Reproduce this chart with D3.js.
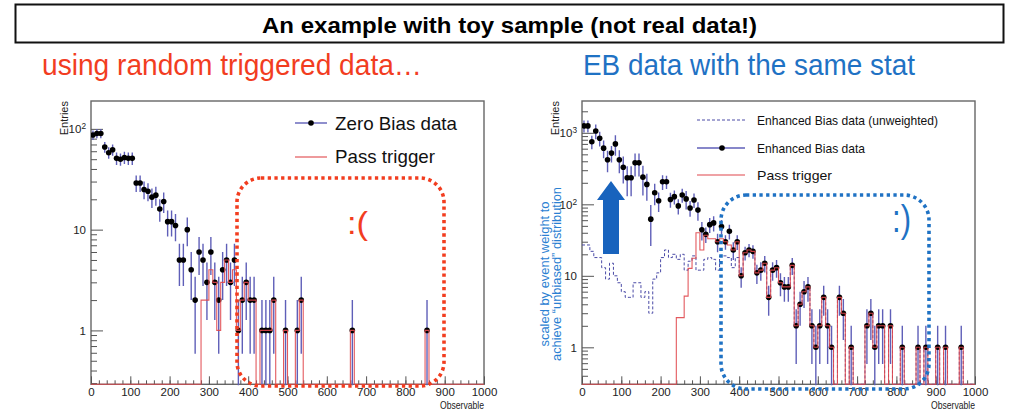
<!DOCTYPE html>
<html><head><meta charset="utf-8">
<script src="https://cdn.jsdelivr.net/npm/d3@7/dist/d3.min.js"></script>
<style>
body{margin:0;background:#fff}
svg{display:block;font-family:"Liberation Sans",Arial,Helvetica,sans-serif}
</style></head><body>
<svg id="chart" width="1019" height="410"></svg>
<script>
// ---------------- data ----------------
const titleText = "An example with toy sample (not real data!)";
const leftSubtitle = "using random triggered data…";
const rightSubtitle = "EB data with the same stat";
const binLow = d3.range(0, 1000, 10);   // histogram bins (10 units wide)
const binWidth = 10;
const xTicks = [0,100,200,300,400,500,600,700,800,900,1000];
const leftYTicks = [1,10,100];
const rightYTicks = [1,10,100,1000];

const zeroBias = [
 87,90,90,66,58,62,51,50,52,51,
 51,29,29,25,24,21,22,16,19,12,
 12,11,5,5,10,4,2,6,5,3,
 6,3,2,4,5,3,5,1,2,3,
 2,2,0,1,1,1,2,0,0,1,
 0,0,1,2,0,0,0,0,0,0,
 0,0,0,0,0,0,1,0,0,0,
 0,0,0,0,0,0,0,0,0,0,
 0,0,0,0,0,1,0,0,0,0,
 0,0,0,0,0,0,0,0,0,0];
const zeroBiasPass = [
 0,0,0,0,0,0,0,0,0,0,
 0,0,0,0,0,0,0,0,0,0,
 0,0,0,0,0,0,0,0,2,2,
 4,3,1,3,5,3,4,1,2,3,
 2,2,0,1,1,1,2,0,0,1,
 0,0,1,2,0,0,0,0,0,0,
 0,0,0,0,0,0,1,0,0,0,
 0,0,0,0,0,0,0,0,0,0,
 0,0,0,0,0,1,0,0,0,0,
 0,0,0,0,0,0,0,0,0,0];
const ebWeighted = [
 1250,1250,750,1060,840,610,420,520,700,420,
 330,235,235,380,380,240,190,62,145,112,
 207,207,117,128,95,135,119,89,115,83,
 44,38,52,55,30,49,30,42,23,30,
 10,21,23,22,11,12,15,5,12,13,
 8,7,7,14,2,4,6,7,2,1,
 2,5,2,1,0,5,3,0,1,0,
 0,0,2,3,1,2,2,0,2,0,
 0,1,0,0,0,1,0,1,0,0,
 1,0,1,0,0,0,1,0,0,0];
const ebUnweighted = [
 27,27,22,18,18,13,9,15,10,8,
 6,5,5,8,8,5,6,3,9,11,
 18,23,18,20,17,20,12,16,19,12,
 12,17,18,17,12,19,19,18,13,18,
 10,21,23,22,11,12,15,5,12,13,
 8,7,7,14,2,4,6,7,2,1,
 2,5,2,1,0,5,3,0,1,0,
 0,0,2,3,1,2,2,0,2,0,
 0,1,0,0,0,1,0,1,0,0,
 1,0,1,0,0,0,1,0,0,0];
const ebPass = [
 0,0,0,0,0,0,0,0,0,0,
 0,0,0,0,0,0,0,0,0,0,
 0,0,0,0,2.6,2.6,5.2,12.7,17.6,40,
 23,37,33,33,30,33,30,27,23,30,
 10,21,23,22,11,12,15,5,12,13,
 8,7,7,14,2,4,6,7,2,1,
 2,5,2,1,0,5,3,0,1,0,
 0,0,2,3,1,2,2,0,2,0,
 0,1,0,0,0,1,0,1,0,0,
 1,0,1,0,0,0,1,0,0,0];

// statistical errors
const zeroBiasErr = zeroBias.map(v => Math.sqrt(v));
const ebErr = ebWeighted.map((v,i) => ebUnweighted[i] > 0 ? v / Math.sqrt(ebUnweighted[i]) : 0);

// ---------------- drawing ----------------
const COL_ERR = '#5f5fb8', COL_RED = '#e0474c', COL_DASH = '#4a4aa6';
const RED = '#f23d1f', BLUE = '#1f72c4';
const svg = d3.select('#chart');
svg.append('rect').attr('width',1019).attr('height',410).attr('fill','#fff');
const defs = svg.append('defs');

// title
svg.append('rect').attr('x',15.5).attr('y',4.5).attr('width',988).attr('height',38)
  .attr('fill','none').attr('stroke','#111').attr('stroke-width',2);
svg.append('text').attr('x',509.5).attr('y',33.3).attr('text-anchor','middle')
  .attr('font-weight','bold').attr('font-size',21.5).attr('fill','#000')
  .attr('textLength',495).attr('lengthAdjust','spacingAndGlyphs').text(titleText);

svg.append('text').attr('x',42).attr('y',75).attr('font-size',30).attr('fill',RED)
  .attr('textLength',380).attr('lengthAdjust','spacingAndGlyphs').text(leftSubtitle);
svg.append('text').attr('x',583).attr('y',75).attr('font-size',30).attr('fill',BLUE)
  .attr('textLength',332).attr('lengthAdjust','spacingAndGlyphs').text(rightSubtitle);

function styleAxis(sel){
  sel.select('.domain').remove();
  sel.selectAll('.tick line').attr('stroke','#555').attr('stroke-width',1);
  sel.selectAll('.tick text').attr('fill','#222').attr('font-size',11.5)
    .attr('font-family','"Liberation Sans",Arial,sans-serif');
}

function drawPanel(cfg){
  const g = svg.append('g');
  const x = d3.scaleLinear().domain([0,1000]).range([cfg.x0,cfg.x1]);
  const y = d3.scaleLog().domain(cfg.yDomain).range([cfg.yBot,cfg.yTop]);
  const id = 'clip'+cfg.name;
  defs.append('clipPath').attr('id',id).append('rect')
    .attr('x',cfg.x0).attr('y',cfg.yTop).attr('width',cfg.x1-cfg.x0).attr('height',cfg.yBot-cfg.yTop+1);

  g.append('rect').attr('x',cfg.x0).attr('y',cfg.yTop).attr('width',cfg.x1-cfg.x0)
    .attr('height',cfg.yBot-cfg.yTop).attr('fill','none').attr('stroke','#666').attr('stroke-width',1.4);

  // x axis
  g.append('g').attr('transform',`translate(0,${cfg.yBot})`)
    .call(d3.axisBottom(x).tickValues(d3.range(0,1001,20)).tickSize(-4).tickFormat(''))
    .call(styleAxis);
  g.append('g').attr('transform',`translate(0,${cfg.yBot})`)
    .call(d3.axisBottom(x).tickValues(xTicks).tickSize(-8).tickPadding(4).tickFormat(d3.format('d')))
    .call(styleAxis);
  // y axis
  const [ymin,ymax] = cfg.yDomain;
  const minor = [];
  for(let k=Math.floor(Math.log10(ymin)); k<=Math.ceil(Math.log10(ymax)); k++)
    for(let m=2;m<=9;m++){ const v=m*Math.pow(10,k); if(v>=ymin && v<=ymax) minor.push(v); }
  g.append('g').attr('transform',`translate(${cfg.x0},0)`)
    .call(d3.axisLeft(y).tickValues(minor).tickSize(-6).tickFormat(''))
    .call(styleAxis);
  const ya = g.append('g').attr('transform',`translate(${cfg.x0},0)`)
    .call(d3.axisLeft(y).tickValues(cfg.yTicks).tickSize(-12).tickPadding(5).tickFormat(d => String(d)))
    .call(styleAxis);
  ya.selectAll('.tick text').each(function(d){
    if(d>=100){
      const t=d3.select(this); t.text('10');
      t.append('tspan').attr('dy','-0.45em').attr('font-size','0.72em').text(Math.round(Math.log10(d)));
    }
  });
  // axis titles
  g.append('text').attr('transform',`translate(${cfg.x0-23},${cfg.yTop}) rotate(-90)`)
    .attr('text-anchor','end').attr('font-size',11).attr('fill','#222').text('Entries');
  g.append('text').attr('x',cfg.x1).attr('y',cfg.yBot+24.5).attr('text-anchor','end')
    .attr('font-size',10.5).attr('fill','#222')
    .attr('textLength',44).attr('lengthAdjust','spacingAndGlyphs').text('Observable');

  const plot = g.append('g').attr('clip-path',`url(#${id})`);
  const stepPath = vals => {
    const pts=[];
    vals.forEach((v,i)=>{ const yy = v>0 ? y(v) : cfg.yBot;
      pts.push([x(binLow[i]),yy],[x(binLow[i]+binWidth),yy]); });
    return d3.line()(pts);
  };
  if(cfg.dashed){
    plot.append('path').attr('d',stepPath(cfg.dashed)).attr('fill','none')
      .attr('stroke',COL_DASH).attr('stroke-width',1).attr('stroke-dasharray','3,2');
  }
  const pts = cfg.data.map((v,i)=>({v,e:cfg.err[i],i})).filter(d=>d.v>0);
  const cx = d => x(binLow[d.i]+binWidth/2);
  plot.selectAll('line.ev').data(pts).join('line').attr('class','ev')
    .attr('x1',cx).attr('x2',cx)
    .attr('y1',d => d.v-d.e>0 ? y(d.v-d.e) : cfg.yBot+2)
    .attr('y2',d => y(d.v+d.e))
    .attr('stroke',COL_ERR).attr('stroke-width',1.4);
  plot.selectAll('line.eh').data(pts).join('line').attr('class','eh')
    .attr('x1',d=>x(binLow[d.i])).attr('x2',d=>x(binLow[d.i]+binWidth))
    .attr('y1',d=>y(d.v)).attr('y2',d=>y(d.v))
    .attr('stroke',COL_ERR).attr('stroke-width',1.2);
  plot.selectAll('circle.pt').data(pts).join('circle').attr('class','pt')
    .attr('cx',cx).attr('cy',d=>y(d.v)).attr('r',2.8).attr('fill','#000');
  plot.append('path').attr('d',stepPath(cfg.pass)).attr('fill','none')
    .attr('stroke',COL_RED).attr('stroke-width',1.1).attr('opacity',0.9);
}

drawPanel({name:'L', x0:91, x1:484, yTop:101, yBot:384.3, yDomain:[0.292,189],
  yTicks:leftYTicks, data:zeroBias, err:zeroBiasErr, pass:zeroBiasPass});
drawPanel({name:'R', x0:582, x1:975, yTop:101, yBot:384.3, yDomain:[0.304,2786],
  yTicks:rightYTicks, data:ebWeighted, err:ebErr, pass:ebPass, dashed:ebUnweighted});

// legends
const lg = svg.append('g');
lg.append('line').attr('x1',295).attr('x2',327).attr('y1',123).attr('y2',123).attr('stroke',COL_ERR).attr('stroke-width',1.4);
lg.append('circle').attr('cx',311).attr('cy',123).attr('r',2.8).attr('fill','#000');
lg.append('text').attr('x',335).attr('y',129.5).attr('font-size',18.5).attr('fill','#111')
  .attr('textLength',122).attr('lengthAdjust','spacingAndGlyphs').text('Zero Bias data');
lg.append('line').attr('x1',295).attr('x2',327).attr('y1',157).attr('y2',157).attr('stroke',COL_RED).attr('stroke-width',1.1);
lg.append('text').attr('x',335).attr('y',163).attr('font-size',18.5).attr('fill','#111')
  .attr('textLength',100).attr('lengthAdjust','spacingAndGlyphs').text('Pass trigger');

lg.append('line').attr('x1',697).attr('x2',745).attr('y1',120).attr('y2',120).attr('stroke',COL_DASH).attr('stroke-dasharray','3,2');
lg.append('text').attr('x',757).attr('y',125).attr('font-size',13.5).attr('fill','#111')
  .attr('textLength',181).attr('lengthAdjust','spacingAndGlyphs').text('Enhanced Bias data (unweighted)');
lg.append('line').attr('x1',697).attr('x2',745).attr('y1',148).attr('y2',148).attr('stroke',COL_ERR).attr('stroke-width',1.4);
lg.append('circle').attr('cx',722).attr('cy',148).attr('r',2.8).attr('fill','#000');
lg.append('text').attr('x',757).attr('y',152.5).attr('font-size',13.5).attr('fill','#111')
  .attr('textLength',108).attr('lengthAdjust','spacingAndGlyphs').text('Enhanced Bias data');
lg.append('line').attr('x1',697).attr('x2',745).attr('y1',175).attr('y2',175).attr('stroke',COL_RED).attr('stroke-width',1.1);
lg.append('text').attr('x',757).attr('y',179.5).attr('font-size',13.5).attr('fill','#111')
  .attr('textLength',75).attr('lengthAdjust','spacingAndGlyphs').text('Pass trigger');

// annotations
const an = svg.append('g');
an.append('rect').attr('x',237).attr('y',178).attr('width',207).attr('height',208).attr('rx',24)
  .attr('fill','none').attr('stroke',RED).attr('stroke-width',3.6).attr('stroke-dasharray','3.3,3.4');
an.append('text').attr('x',347).attr('y',234).attr('font-size',32).attr('fill',RED)
  .attr('textLength',21).attr('lengthAdjust','spacingAndGlyphs').text(':(');
an.append('rect').attr('x',721).attr('y',195).attr('width',208).attr('height',194).attr('rx',25)
  .attr('fill','none').attr('stroke',BLUE).attr('stroke-width',3.6).attr('stroke-dasharray','3.3,3.4');
an.append('text').attr('x',892).attr('y',232).attr('font-size',38).attr('fill',BLUE)
  .attr('textLength',19).attr('lengthAdjust','spacingAndGlyphs').text(':)');
an.append('path').attr('d','M611,181 L625,200 L619,200 L619,254 L603,254 L603,200 L597,200 Z')
  .attr('fill','#1863bd');
an.append('text').attr('transform','translate(549,274) rotate(-90)').attr('text-anchor','middle')
  .attr('font-size',12).attr('fill','#2a80d2').attr('textLength',145).attr('lengthAdjust','spacingAndGlyphs')
  .text('scaled by event weight to');
an.append('text').attr('transform','translate(561,274) rotate(-90)').attr('text-anchor','middle')
  .attr('font-size',12).attr('fill','#2a80d2').attr('textLength',174).attr('lengthAdjust','spacingAndGlyphs')
  .text('achieve “unbiased” distribution');
</script>
</body></html>
